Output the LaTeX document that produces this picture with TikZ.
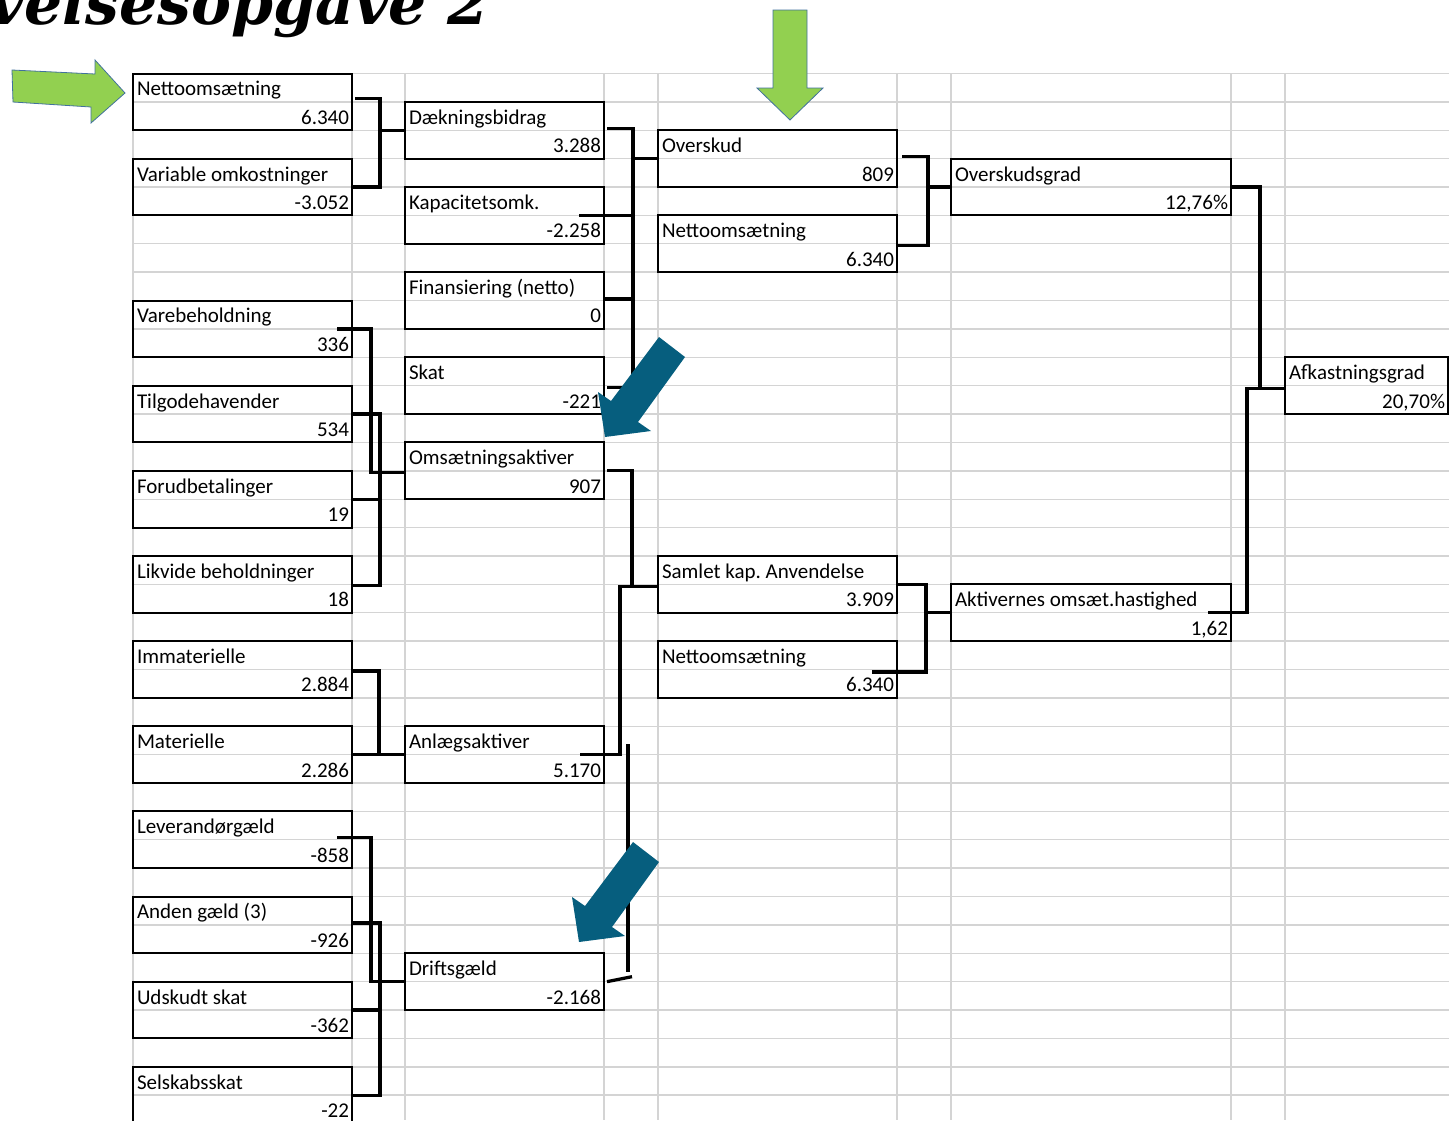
\documentclass[tikz,border=0pt]{standalone}
\usepackage{fontspec}
\setmainfont{Carlito}
\newfontfamily\titelfont{DejaVu Serif}
\frenchspacing
\usetikzlibrary{calc, positioning}
\definecolor{gitterfarve}{RGB}{212,212,212}
\definecolor{pilgroen}{RGB}{146,208,80}
\definecolor{pilkant}{RGB}{65,113,156}
\definecolor{pilblaa}{RGB}{6,94,126}
\tikzset{
    kasse/.style={draw, line width=2pt, minimum height=56.76pt, inner sep=0pt, outer sep=0pt},
    ktekst/.style={inner sep=0pt, outer sep=0pt, font=\fontsize{21}{25}\selectfont},
    link/.style={line width=3.2pt, line join=miter},
    gitter/.style={line width=1.4pt, gitterfarve},
    gronpil/.style={fill=pilgroen, draw=pilkant, line width=0.8pt},
    blaapil/.style={fill=pilblaa}
}
% kasse: navn, x, raekke, bredde, tekst, tal
\newcommand{\kbox}[6]{%
    \node[kasse, minimum width=#4pt] (#1) at ({#2+#4/2},{73.5+(#3+1)*28.38}) {};
    \node[ktekst, anchor=base west] (#1-navn) at ([xshift=4pt,yshift=6pt]#1.west) {#5};
    \node[ktekst, anchor=base east] (#1-tal) at ([xshift=-3pt,yshift=6pt]#1.south east) {#6};
}

\begin{document}
\begin{tikzpicture}[x=1pt, y=-1pt]
    \useasboundingbox (0,0) rectangle (1449,1120);
    \clip (0,0) rectangle (1449,1120);
    \def \rh {28.38}
    \def \top {73.5}
    \foreach \r in {0,...,36}{
    \draw[gitter] (133,{\top+\r*\rh}) -- (1449,{\top+\r*\rh});}
    \foreach \gx in {133,352,405,604,658,897,951,1231,1285}{
    \draw[gitter] (\gx,\top) -- (\gx,1120);}
    \node[anchor=base east, inner sep=0pt, font=\titelfont\bfseries\itshape\fontsize{60}{64}\selectfont] (titel) at (490,24) {Øvelsesopgave 2};
    \kbox{netto1}{133}{0}{219}{Nettoomsætning}{6.340}
    \kbox{varomk}{133}{3}{219}{Variable omkostninger}{-3.052}
    \kbox{varebeh}{133}{8}{219}{Varebeholdning}{336}
    \kbox{tilgode}{133}{11}{219}{Tilgodehavender}{534}
    \kbox{forud}{133}{14}{219}{Forudbetalinger}{19}
    \kbox{likvide}{133}{17}{219}{Likvide beholdninger}{18}
    \kbox{immat}{133}{20}{219}{Immaterielle}{2.884}
    \kbox{materiel}{133}{23}{219}{Materielle}{2.286}
    \kbox{leverand}{133}{26}{219}{Leverandørgæld}{-858}
    \kbox{anden}{133}{29}{219}{Anden gæld (3)}{-926}
    \kbox{udskudt}{133}{32}{219}{Udskudt skat}{-362}
    \kbox{selskab}{133}{35}{219}{Selskabsskat}{-22}
    \kbox{daekbid}{405}{1}{199}{Dækningsbidrag}{3.288}
    \kbox{kapomk}{405}{4}{199}{Kapacitetsomk.}{-2.258}
    \kbox{finans}{405}{7}{199}{Finansiering (netto)}{0}
    \kbox{skat}{405}{10}{199}{Skat}{-221}
    \kbox{omsakt}{405}{13}{199}{Omsætningsaktiver}{907}
    \kbox{anlaeg}{405}{23}{199}{Anlægsaktiver}{5.170}
    \kbox{driftsg}{405}{31}{199}{Driftsgæld}{-2.168}
    \kbox{overskud}{658}{2}{239}{Overskud}{809}
    \kbox{netto2}{658}{5}{239}{Nettoomsætning}{6.340}
    \kbox{samlet}{658}{17}{239}{Samlet kap. Anvendelse}{3.909}
    \kbox{netto3}{658}{20}{239}{Nettoomsætning}{6.340}
    \kbox{oskgrad}{951}{3}{280}{Overskudsgrad}{12,76\%}
    \kbox{aktoms}{951}{18}{280}{Aktivernes omsæt.hastighed}{1,62}
    \kbox{afkast}{1285}{10}{163}{Afkastningsgrad}{20,70\%}
    \draw[link] ([xshift=3pt,yshift=3pt]netto1.east) -- ++(25,0) |- (varomk.east);
    \draw[link] (daekbid.west) -- ++(-25,0);
    \draw[link] ([xshift=3pt,yshift=2pt]daekbid.east) -- ++(26,0) |- ([xshift=3pt,yshift=-2pt]skat.east);
    \draw[link] ([xshift=-25pt]kapomk.east) -- ++(54,0);
    \draw[link] ([yshift=1.5pt]finans.east) -- ++(29,0);
    \draw[link] (overskud.west) -- ++(-25,0);
    \draw[link] ([xshift=5pt,yshift=2.5pt]overskud.east) -- ++(26,0) |- ([yshift=-2pt]netto2.east);
    \draw[link] (oskgrad.west) -- ++(-23,0);
    \draw[link] ([xshift=1pt]oskgrad.east) -- ++(28,0) |- ([yshift=-2.5pt]afkast.west);
    \draw[link] ([yshift=-2.5pt]afkast.west) -- ++(-38,0) |- ([xshift=-23pt]aktoms.east);
    \draw[link] ([xshift=-15pt]varebeh.east) -- ++(34,0) |- ([yshift=-2pt]omsakt.west);
    \draw[link] (tilgode.east) -- ++(28,0) |- ([yshift=-1.5pt]likvide.east);
    \draw[link] (forud.east) -- ++(28,0);
    \draw[link] ([yshift=-1.5pt]immat.east) -- ++(27,0) |- (materiel.east);
    \draw[link] (materiel.east) -- (anlaeg.west);
    \draw[link] ([xshift=3pt]omsakt.east) -- ++(25,0) |- ([yshift=-2pt]samlet.west);
    \draw[link] ([yshift=-2pt]samlet.west) -- ++(-38,0) |- ([xshift=-24pt]anlaeg.east);
    \coordinate (dtop) at (628,744);
    \coordinate (dbund) at (628,972);
    \draw[link] (dtop) -- (dbund);
    \draw[link] ([xshift=3pt]driftsg.east) -- ++(25,-5);
    \draw[link] ([xshift=1pt]samlet.east) -- ++(28,0) |- ([xshift=-25pt,yshift=-2.5pt]netto3.east);
    \draw[link] (aktoms.west) -- ++(-25,0);
    \draw[link] ([xshift=-15pt,yshift=2pt]leverand.east) -- ++(34,0) |- (driftsg.west);
    \draw[link] ([yshift=2pt]anden.east) -- ++(28,0) |- (selskab.east);
    \draw[link] (udskudt.east) -- ++(28,0);
    \draw[gronpil] (12,70) -- (95,74) -- (95,60) -- (125,93) -- (91,123) -- (91,107) -- (13,102) -- cycle;
    \draw[gronpil] (773,10) -- (807,10) -- (807,88) -- (823,88) -- (790,120) -- (757,88) -- (773,88) -- cycle;
    \fill[blaapil] (659,337) -- (611,401) -- (598,392) -- (605,437) -- (651,431) -- (638,422) -- (685,357) -- cycle;
    \fill[blaapil] (633,842) -- (585,906) -- (572,897) -- (579,942) -- (625,936) -- (612,927) -- (659,862) -- cycle;
\end{tikzpicture}
\end{document}
